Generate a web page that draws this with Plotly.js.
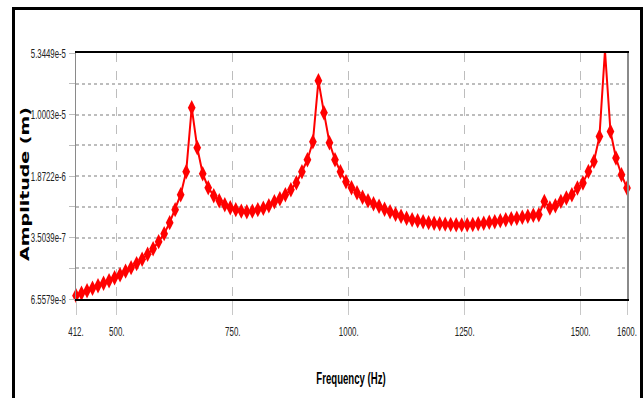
<!DOCTYPE html>
<html>
<head>
<meta charset="utf-8">
<script src="https://cdn.plot.ly/plotly-3.0.1.min.js"></script>
<style>
  html, body { margin: 0; padding: 0; background: #fff; }
  #wrap { position: relative; width: 643px; height: 398px; overflow: hidden; }
  #chart { position: absolute; left: 0; top: 0; width: 643px; height: 398px; }
  #frame { position: absolute; left: 12px; top: 7px; width: 625px; height: 420px;
           border-left: 3px solid #000; border-top: 3px solid #000; border-right: 3px solid #000;
           pointer-events: none; }
</style>
</head>
<body>
<div id="wrap">
  <div id="chart"></div>
  <div id="frame"></div>
</div>
<script>
// Frequency (Hz)
const frequency = [
  412, 423.9, 435.8, 447.6, 459.5, 471.4, 483.3, 495.2, 507.0, 518.9,
  530.8, 542.7, 554.6, 566.4, 578.3, 590.2, 602.1, 614.0, 625.8, 637.7,
  649.6, 661.5, 673.4, 685.2, 697.1, 709.0, 720.9, 732.8, 744.6, 756.5,
  768.4, 780.3, 792.2, 804.0, 815.9, 827.8, 839.7, 851.6, 863.4, 875.3,
  887.2, 899.1, 911.0, 922.8, 934.7, 946.6, 958.5, 970.4, 982.2, 994.1,
  1006.0, 1017.9, 1029.8, 1041.6, 1053.5, 1065.4, 1077.3, 1089.2, 1101.0, 1112.9,
  1124.8, 1136.7, 1148.6, 1160.4, 1172.3, 1184.2, 1196.1, 1208.0, 1219.8, 1231.7,
  1243.6, 1255.5, 1267.4, 1279.2, 1291.1, 1303.0, 1314.9, 1326.8, 1338.6, 1350.5,
  1362.4, 1374.3, 1386.2, 1398.0, 1409.9, 1421.8, 1433.7, 1445.6, 1457.4, 1469.3,
  1481.2, 1493.1, 1505.0, 1516.8, 1528.7, 1540.6, 1552.5, 1564.4, 1576.2, 1588.1,
  1600
];
// Amplitude (m)
const amplitude = [
  7.18e-8, 7.68e-8, 8.22e-8, 8.80e-8, 9.42e-8, 1.009e-7, 1.080e-7, 1.172e-7, 1.27e-7, 1.40e-7,
  1.54e-7, 1.72e-7, 1.94e-7, 2.22e-7, 2.58e-7, 3.13e-7, 3.89e-7, 5.25e-7, 7.48e-7, 1.125e-6,
  2.105e-6, 1.204e-5, 4.05e-6, 1.993e-6, 1.361e-6, 1.095e-6, 9.55e-7, 8.57e-7, 7.89e-7, 7.48e-7,
  7.18e-7, 7.08e-7, 7.18e-7, 7.48e-7, 7.79e-7, 8.34e-7, 9.30e-7, 1.009e-6, 1.125e-6, 1.289e-6,
  1.560e-6, 2.105e-6, 2.92e-6, 4.77e-6, 2.513e-5, 1.051e-5, 4.64e-6, 2.92e-6, 2.105e-6, 1.603e-6,
  1.361e-6, 1.188e-6, 1.051e-6, 9.55e-7, 8.80e-7, 8.22e-7, 7.58e-7, 7.08e-7, 6.61e-7, 6.26e-7,
  5.93e-7, 5.69e-7, 5.54e-7, 5.39e-7, 5.25e-7, 5.17e-7, 5.10e-7, 5.04e-7, 4.99e-7, 4.95e-7,
  4.94e-7, 4.95e-7, 4.99e-7, 5.10e-7, 5.17e-7, 5.32e-7, 5.39e-7, 5.54e-7, 5.69e-7, 5.85e-7,
  5.93e-7, 6.09e-7, 6.26e-7, 6.43e-7, 6.52e-7, 9.37e-7, 7.83e-7, 8.34e-7, 9.37e-7, 1.028e-6,
  1.125e-6, 1.350e-6, 1.547e-6, 2.123e-6, 2.788e-6, 5.51e-6, 5.7e-5, 6.31e-6, 3.06e-6, 1.940e-6,
  1.350e-6
];
// Axis ticks
const xTickVals = [412, 500, 750, 1000, 1250, 1500, 1600];
const xTickText = ['412.', '500.', '750.', '1000.', '1250.', '1500.', '1600.'];
const yTickVals = [6.5579e-8, 1.5159e-7, 3.5039e-7, 8.099e-7, 1.8722e-6, 4.3275e-6, 1.0003e-5, 2.3122e-5, 5.3449e-5];
const yTickText = ['6.5579e-8', '', '3.5039e-7', '', '1.8722e-6', '', '1.0003e-5', '', '5.3449e-5'];

const sans = '"Liberation Sans", Arial, sans-serif';

const trace = {
  x: frequency,
  y: amplitude,
  type: 'scatter',
  mode: 'lines+markers',
  line: { color: '#ff0000', width: 2 },
  marker: { color: '#ff0000', symbol: 'diamond-tall', size: 11 },
  cliponaxis: false,
  hoverinfo: 'x+y'
};

const layout = {
  width: 643,
  height: 398,
  margin: { l: 76, r: 16, t: 53, b: 99 },
  paper_bgcolor: '#ffffff',
  plot_bgcolor: '#ffffff',
  showlegend: false,
  xaxis: {
    range: [412, 1600],
    tickvals: xTickVals,
    ticktext: xTickText,
    tickfont: { family: sans, size: 12, color: '#222' },
    ticks: 'outside',
    ticklen: 14,
    tickcolor: '#c8c8c8',
    tickwidth: 1,
    ticklabelstandoff: 7,
    ticklabeloverflow: 'allow',
    showgrid: true,
    gridcolor: '#bdbdbd',
    griddash: 'dash',
    gridwidth: 1,
    showline: true,
    linecolor: '#000',
    linewidth: 2,
    mirror: true,
    zeroline: false,
    automargin: false,
    title: { text: 'Frequency (Hz)', font: { family: sans, size: 16, color: '#000', weight: 'bold' }, standoff: 30 }
  },
  yaxis: {
    type: 'log',
    range: [Math.log10(6.5579e-8), Math.log10(5.3449e-5)],
    tickvals: yTickVals,
    ticktext: yTickText,
    tickfont: { family: sans, size: 13, color: '#222' },
    ticks: 'outside',
    ticklen: 6,
    tickcolor: '#bdbdbd',
    ticklabeloverflow: 'allow',
    showgrid: true,
    gridcolor: '#bdbdbd',
    griddash: 'dot',
    gridwidth: 2,
    showline: true,
    linecolor: '#8a8a8a',
    linewidth: 1.5,
    mirror: true,
    zeroline: false,
    automargin: false,
    title: { text: 'Amplitude (m)', font: { family: '"DejaVu Sans", sans-serif', size: 19, color: '#000', weight: 'bold' }, standoff: 6 }
  }
};

function centreOn(el, tx, ty) {
  const r = el.getBoundingClientRect();
  const dx = tx - (r.left + r.width / 2);
  const dy = ty - (r.top + r.height / 2);
  const cur = el.getAttribute('transform') || '';
  el.setAttribute('transform', 'translate(' + dx.toFixed(1) + ',' + dy.toFixed(1) + ') ' + cur);
}

function squeeze(selector, factor) {
  document.querySelectorAll(selector).forEach(function (t) {
    const w = t.getComputedTextLength();
    if (w > 0) {
      t.setAttribute('lengthAdjust', 'spacingAndGlyphs');
      t.setAttribute('textLength', (w * factor).toFixed(1));
    }
  });
}

Plotly.newPlot('chart', [trace], layout, { displayModeBar: false, staticPlot: true }).then(function () {
  // the reference rendering is horizontally condensed: squeeze tick labels and titles the same way
  squeeze('#chart .xtick text', 0.66);
  squeeze('#chart .ytick text', 0.6);
  const xt = document.querySelector('#chart text.xtitle');
  if (xt) {
    squeeze('#chart text.xtitle', 0.6);
    centreOn(xt, 351, 379);
  }
  const yt = document.querySelector('#chart text.ytitle');
  if (yt) {
    const r = yt.getBoundingClientRect();
    const cx = r.left + r.width / 2, cy = r.top + r.height / 2;
    const cur = yt.getAttribute('transform') || '';
    yt.setAttribute('transform',
      'translate(' + cx + ',' + cy + ') scale(0.62,1) translate(' + (-cx) + ',' + (-cy) + ') ' + cur);
    centreOn(yt, 25, 184);
  }
});
</script>
</body>
</html>
